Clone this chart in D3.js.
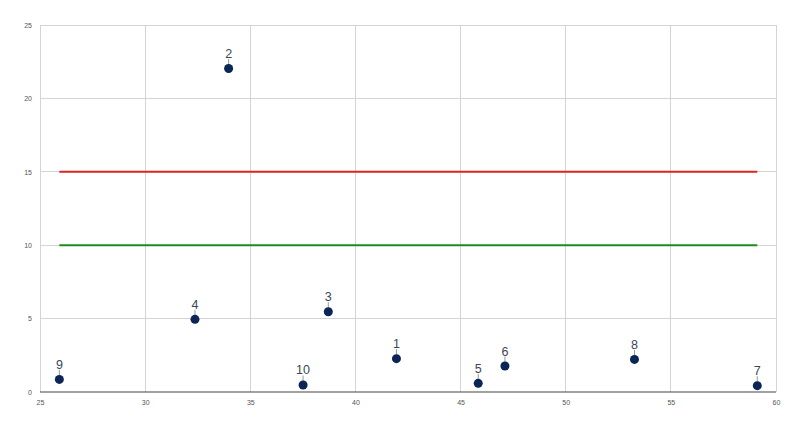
<!DOCTYPE html>
<html>
<head>
<meta charset="utf-8">
<script src="https://cdn.jsdelivr.net/npm/d3@7"></script>
<style>
  body { margin: 0; background: #fff; }
  svg { display: block; font-family: "Liberation Sans", Arial, sans-serif; }
</style>
</head>
<body>
<script>
// point data
var labels = ["1", "2", "3", "4", "5", "6", "7", "8", "9", "10"];
var xValues = [41.95, 33.97, 38.71, 32.37, 45.84, 47.11, 59.11, 53.27, 25.92, 37.51];
var yValues = [2.27, 22.04, 5.47, 4.95, 0.59, 1.77, 0.43, 2.22, 0.86, 0.48];

// horizontal reference lines
var refValues = [15, 10];
var refColors = ["#dd2222", "#1f8a1f"];
var refSpan = [25.92, 59.11];

var xTicks = [25, 30, 35, 40, 45, 50, 55, 60];
var yTicks = [0, 5, 10, 15, 20, 25];

var width = 800,
    height = 424;
var margin = {top: 25, right: 24, bottom: 32, left: 40};

var svg = d3.select("body").append("svg")
    .attr("width", width)
    .attr("height", height);

var x = d3.scaleLinear().domain([25, 60]).range([margin.left, width - margin.right]);
var y = d3.scaleLinear().domain([0, 25]).range([height - margin.bottom, margin.top]);

var g = svg.append("g");

// grid
g.selectAll("line.vgrid")
    .data(xTicks)
  .enter().append("line")
    .attr("class", "vgrid")
    .attr("x1", function(d) { return x(d); })
    .attr("x2", function(d) { return x(d); })
    .attr("y1", y(25))
    .attr("y2", y(0))
    .attr("stroke", "#d4d4d4")
    .attr("stroke-width", 1)
    .attr("shape-rendering", "crispEdges");

g.selectAll("line.hgrid")
    .data(yTicks.filter(function(d) { return d > 0; }))
  .enter().append("line")
    .attr("class", "hgrid")
    .attr("x1", x(25))
    .attr("x2", x(60))
    .attr("y1", function(d) { return y(d); })
    .attr("y2", function(d) { return y(d); })
    .attr("stroke", "#d4d4d4")
    .attr("stroke-width", 1)
    .attr("shape-rendering", "crispEdges");

// axes (labels only, domain line drawn separately)
var xAxis = d3.axisBottom(x).tickValues(xTicks).tickSize(0).tickPadding(8);
var yAxis = d3.axisLeft(y).tickValues(yTicks).tickSize(0).tickPadding(8);

var gx = svg.append("g")
    .attr("transform", "translate(0," + y(0) + ")")
    .call(xAxis);
var gy = svg.append("g")
    .attr("transform", "translate(" + x(25) + ",0)")
    .call(yAxis);

[gx, gy].forEach(function(a) {
  a.select(".domain").remove();
  a.selectAll("text")
    .attr("fill", "#555")
    .style("font-size", "7px")
    .style("font-family", "\"Liberation Sans\", Arial, sans-serif");
});

// baseline
svg.append("line")
    .attr("x1", x(25))
    .attr("x2", x(60))
    .attr("y1", y(0))
    .attr("y2", y(0))
    .attr("stroke", "#444")
    .attr("stroke-width", 1.2);

// reference lines
svg.selectAll("line.ref")
    .data(refValues)
  .enter().append("line")
    .attr("class", "ref")
    .attr("x1", x(refSpan[0]))
    .attr("x2", x(refSpan[1]))
    .attr("y1", function(d) { return y(d); })
    .attr("y2", function(d) { return y(d); })
    .attr("stroke", function(d, i) { return refColors[i]; })
    .attr("stroke-width", 2);

// points
var pts = labels.map(function(l, i) {
  return {label: l, x: xValues[i], y: yValues[i]};
});

var pt = svg.selectAll("g.pt")
    .data(pts)
  .enter().append("g")
    .attr("class", "pt")
    .attr("transform", function(d) { return "translate(" + x(d.x) + "," + y(d.y) + ")"; });

pt.append("line")
    .attr("x1", 0).attr("x2", 0)
    .attr("y1", -4).attr("y2", -9.5)
    .attr("stroke", "#999")
    .attr("stroke-width", 1);

pt.append("circle")
    .attr("r", 4.5)
    .attr("fill", "#0b2556");

pt.append("text")
    .attr("y", -10.5)
    .attr("text-anchor", "middle")
    .attr("fill", "#3a4658")
    .style("font-size", "12.5px")
    .text(function(d) { return d.label; });
</script>
</body>
</html>
